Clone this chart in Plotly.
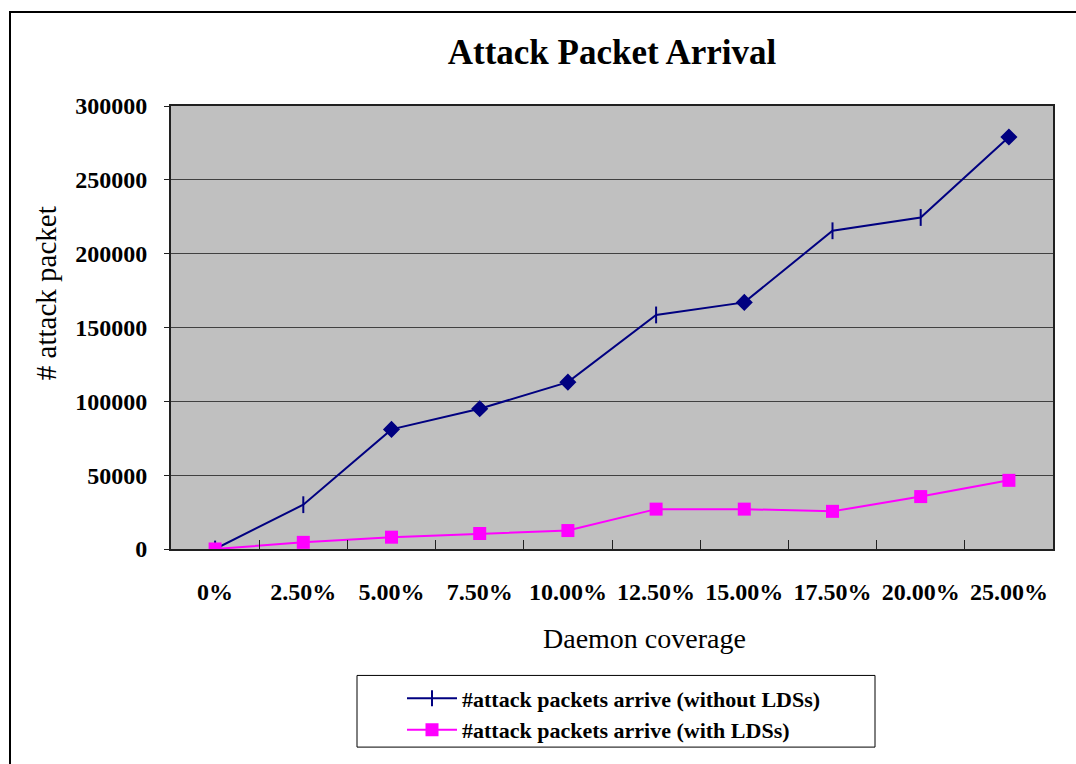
import plotly.graph_objects as go

# Daemon coverage levels (x categories)
coverage = ["0%", "2.50%", "5.00%", "7.50%", "10.00%", "12.50%",
            "15.00%", "17.50%", "20.00%", "25.00%"]

# Attack packets arriving, per coverage level
without_lds = [0, 30000, 81000, 95000, 113000, 158500, 167000, 215500, 224500, 279000]
with_lds = [0, 4500, 8000, 10500, 12500, 27000, 27000, 25500, 35500, 46500]

# Marker shapes used on the "without LDSs" line
without_symbols = ["line-ns", "line-ns", "diamond", "diamond", "diamond", "line-ns",
                   "diamond", "line-ns", "line-ns", "diamond"]

y_ticks = [0, 50000, 100000, 150000, 200000, 250000, 300000]

NAVY = "#000080"
MAGENTA = "#FF00FF"
SERIF = "Liberation Serif, Times New Roman, serif"

fig = go.Figure()

fig.add_trace(go.Scatter(
    x=coverage, y=without_lds, mode="lines+markers",
    name="#attack packets arrive (without LDSs)",
    line=dict(color=NAVY, width=2),
    marker=dict(symbol=without_symbols,
                size=[12 if s == "line-ns" else 11 for s in without_symbols],
                color=NAVY, opacity=1, line=dict(color=NAVY, width=2)),
))
fig.add_trace(go.Scatter(
    x=coverage, y=with_lds, mode="lines+markers",
    name="#attack packets arrive (with LDSs)",
    line=dict(color=MAGENTA, width=2),
    marker=dict(symbol="square", size=13, color=MAGENTA, opacity=1),
))

L, R, T, B = 171, 23, 106, 213
W, H = 1076, 764
pw, ph = W - L - R, H - T - B

def px_x(x):
    return (x - L) / pw

def px_y(y):
    return (H - B - y) / ph

fig.update_layout(
    width=W, height=H,
    margin=dict(l=L, r=R, t=T, b=B),
    paper_bgcolor="white",
    plot_bgcolor="#C0C0C0",
    font=dict(family=SERIF, color="black"),
    title=dict(text="<b>Attack Packet Arrival</b>", x=0.5, xref="paper",
               y=1 - 52 / H, yanchor="middle", font=dict(size=35, family=SERIF)),
    showlegend=True,
    legend=dict(x=px_x(402), y=px_y(680), xanchor="left", yanchor="top",
                borderwidth=0, bgcolor="rgba(0,0,0,0)",
                font=dict(size=22, family=SERIF, weight="bold"),
                itemwidth=50, tracegroupgap=0),
    xaxis=dict(type="category", range=[-0.5, 9.5], tickson="boundaries",
               ticks="inside", ticklen=9,
               tickcolor="#202020", showgrid=False, showline=True, linecolor="#202020",
               linewidth=2, mirror=True, tickfont=dict(size=24, family=SERIF, weight="bold"),
               ticklabelstandoff=20, zeroline=False),
    yaxis=dict(range=[0, 300000], tickvals=y_ticks, ticktext=[str(v) for v in y_ticks],
               ticks="outside", ticklen=5, tickcolor="#202020",
               showgrid=True, gridcolor="#404040", gridwidth=1,
               showline=True, linecolor="#202020", linewidth=2, mirror=True,
               tickfont=dict(size=24, family=SERIF, weight="bold"),
               ticklabelstandoff=12, zeroline=False),
    annotations=[
        dict(text="Daemon coverage", x=px_x(644), y=px_y(641), xref="paper", yref="paper",
             showarrow=False, xanchor="center", yanchor="middle",
             font=dict(size=28, family=SERIF)),
        dict(text="# attack packet", x=px_x(46), y=px_y(294), xref="paper", yref="paper",
             showarrow=False, xanchor="center", yanchor="middle", textangle=-90,
             font=dict(size=29, family=SERIF)),
    ],
    shapes=[
        # outer chart frame
        dict(type="rect", xref="paper", yref="paper",
             x0=px_x(10), y0=px_y(H + 20), x1=px_x(W + 20), y1=px_y(11.5),
             line=dict(color="black", width=2), fillcolor="rgba(0,0,0,0)", layer="below"),
        # legend frame
        dict(type="rect", xref="paper", yref="paper",
             x0=px_x(357), y0=px_y(750), x1=px_x(875), y1=px_y(678),
             line=dict(color="black", width=1), fillcolor="white", layer="below"),
    ],
)

fig.write_html("out.html")
